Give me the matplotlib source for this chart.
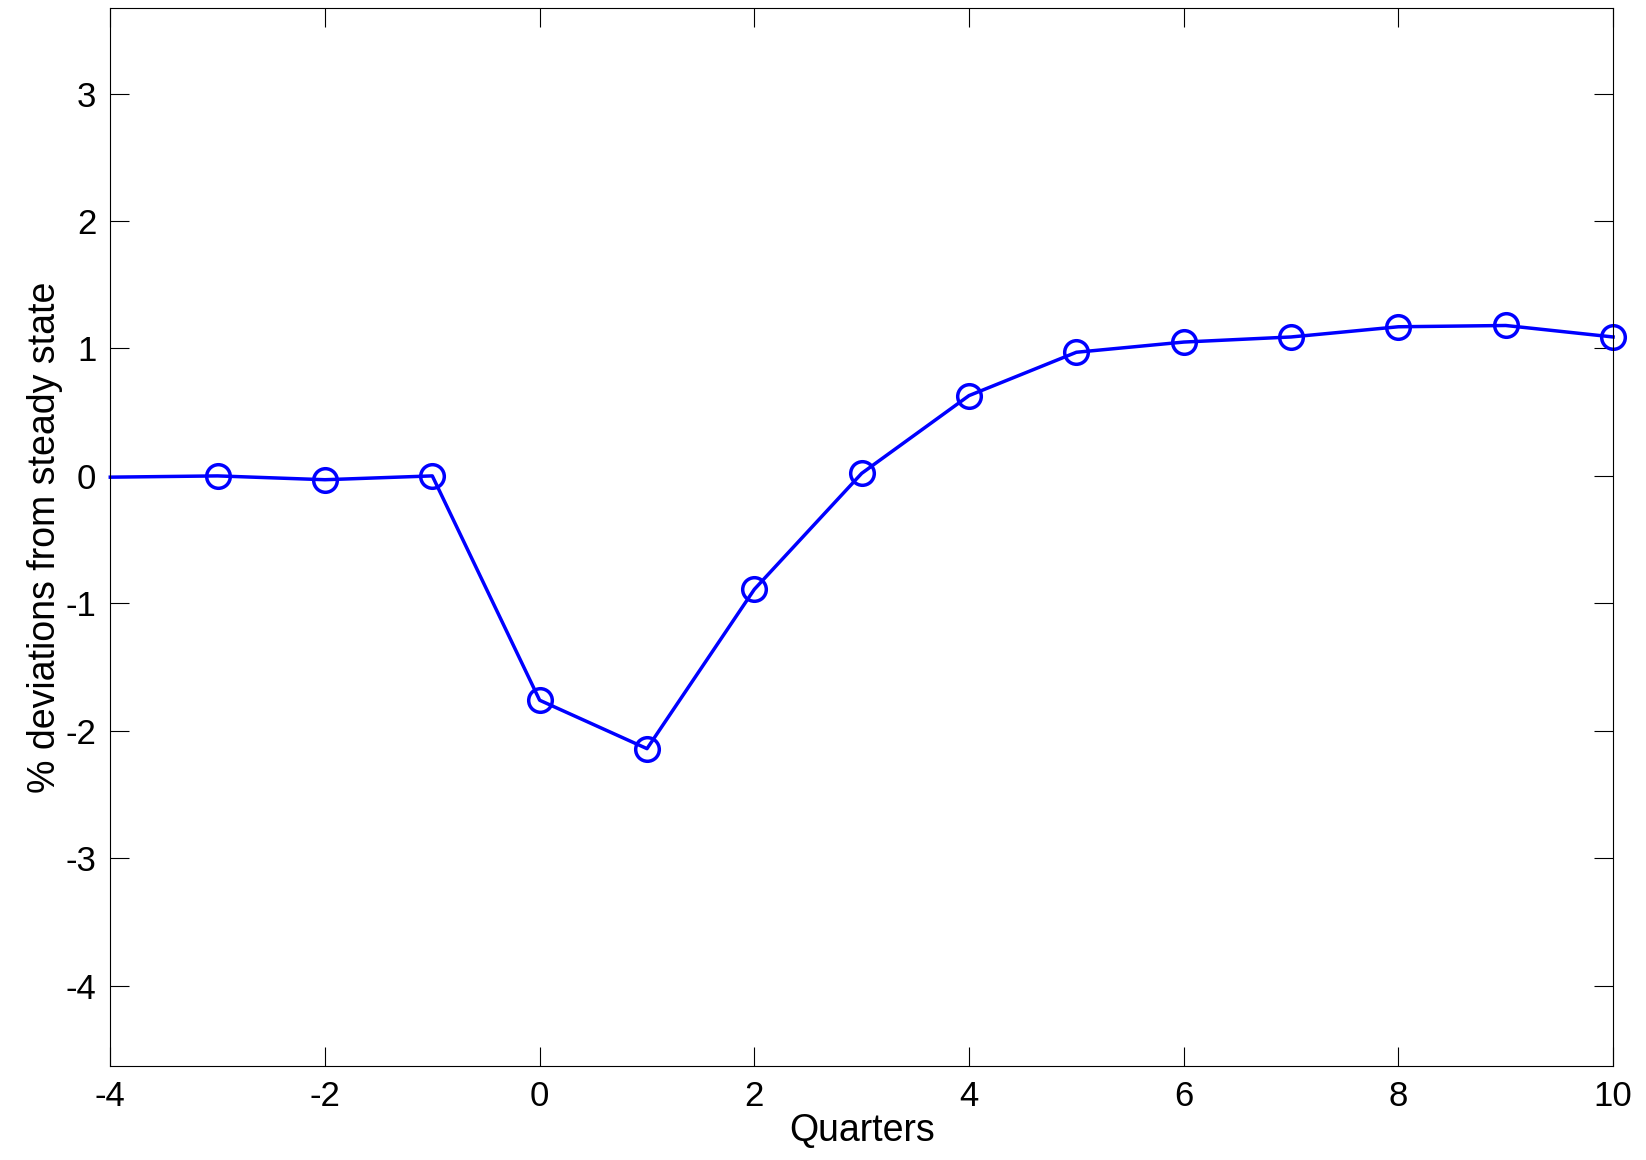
import matplotlib.pyplot as plt

plt.rcParams['font.family'] = ['Liberation Sans', 'DejaVu Sans']
plt.rcParams['axes.unicode_minus'] = False

quarters = [-4, -3, -2, -1, 0, 1, 2, 3, 4, 5, 6, 7, 8, 9, 10]
deviation = [-0.01, 0.0, -0.03, 0.0, -1.76, -2.14, -0.89, 0.02, 0.63, 0.97, 1.05, 1.09, 1.17, 1.18, 1.09]

fig = plt.figure(figsize=(16.46, 11.6), dpi=100)
ax = fig.add_axes([0.067, 0.081, 0.913, 0.912])
ax.plot(quarters, deviation, color='#0000ff', linewidth=2.5, marker='o', markersize=17,
        markerfacecolor='none', markeredgewidth=2.5, markevery=list(range(1, len(quarters))),
        clip_on=False)

ax.set_xlim(-4, 10)
ax.set_ylim(-4.63, 3.67)
ax.set_xticks(range(-4, 11, 2))
ax.set_yticks(range(-4, 4))
ax.tick_params(direction='in', top=True, right=True, labelsize=25, length=14, pad=10)
ax.set_xlabel('Quarters', fontsize=27, labelpad=0)
ax.set_ylabel('% deviations from steady state', fontsize=27, labelpad=2)

plt.savefig('out.png')
